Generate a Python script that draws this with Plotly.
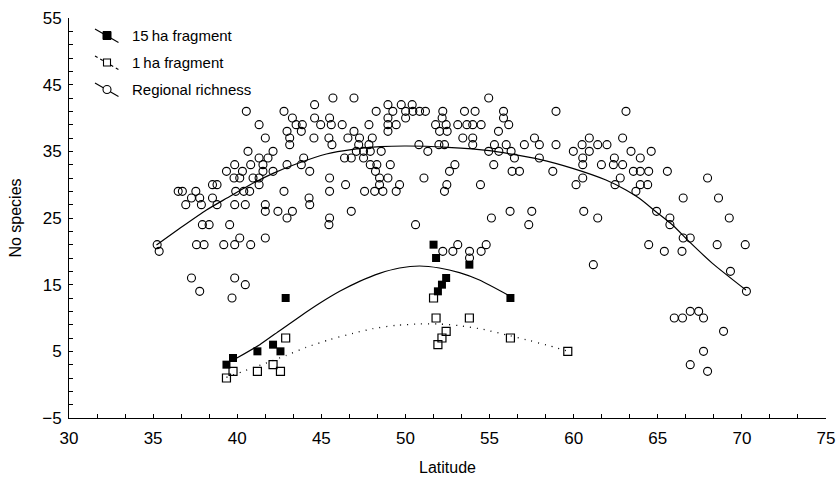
import plotly.graph_objects as go

# ---------------- data ----------------
reg_lat = [45.69, 44.60, 40.54, 42.78, 43.28, 44.60, 45.49, 41.30, 43.50, 43.87, 44.96, 45.59,
           42.96, 43.81, 41.67, 43.12, 44.56, 45.45, 43.12, 45.63, 40.64, 42.13, 41.30, 41.83,
           43.95, 39.85, 40.80, 41.53, 42.96, 43.81, 39.36, 40.31, 41.53, 42.13, 44.31, 39.81,
           40.15, 40.94, 41.30, 45.49, 38.53, 38.80, 41.30, 36.49, 36.74, 37.54, 39.91, 40.39,
           40.74, 42.78, 45.49, 37.28, 37.77, 38.53, 44.27, 36.94, 37.87, 38.80, 39.85, 40.48,
           41.67, 44.31, 41.67, 42.42, 43.28, 42.96, 45.49, 37.93, 38.33, 39.55, 45.45, 40.15,
           41.67, 35.24, 37.58, 38.03, 39.20, 39.85, 40.80, 35.36, 37.28, 39.85, 40.48, 37.77,
           39.69,
           46.94, 54.95, 48.96, 49.75, 50.40, 48.26, 49.25, 50.01, 50.44, 50.84, 51.19, 52.22,
           53.51, 54.14, 55.83, 58.95, 48.96, 50.01, 52.18, 55.83, 46.24, 47.83, 48.96, 49.45,
           51.79, 52.42, 53.11, 53.65, 54.00, 54.50, 56.14, 48.96, 52.03, 52.48, 55.53, 46.94,
           46.58, 47.27, 48.03, 47.22, 47.83, 47.08, 47.51, 47.91, 48.56, 46.38, 46.78, 47.51,
           47.91, 48.30, 49.10, 48.22, 48.46, 48.96, 46.44, 48.46, 49.65, 47.57, 48.17, 48.66,
           49.45, 46.78, 50.60, 51.10, 50.80, 51.33, 51.99, 52.32, 53.41, 54.00, 54.00, 54.95,
           55.29, 55.55, 55.99, 56.28, 56.48, 57.07, 57.67, 57.96, 57.96, 58.95, 59.98, 55.25,
           52.94, 52.62, 56.34, 56.78, 58.76, 52.46, 52.32, 54.46, 60.14, 55.11, 56.22, 57.51,
           57.33, 52.22, 52.82, 53.11, 53.81, 53.81, 54.50, 54.80,
           63.11, 60.93, 60.50, 60.93, 61.43, 61.98, 60.54, 60.54, 61.65, 62.42, 62.36, 62.91,
           62.91, 63.41, 63.96, 64.61, 63.55, 63.96, 64.46, 65.57, 62.77, 63.96, 64.40, 62.46,
           63.70, 60.54, 67.96, 66.51, 68.61, 64.93, 65.72, 65.72, 66.51, 66.93, 60.60, 61.43,
           69.25, 64.46, 65.39, 66.44, 68.53, 70.20, 61.17, 69.32, 70.27, 65.98, 66.47, 66.93,
           67.43, 67.72, 68.91, 67.72, 66.93, 67.96]
reg_sp = [43, 42, 41, 41, 40, 40, 40, 39, 39, 39, 39, 39,
          38, 38, 37, 37, 37, 37, 36, 36, 35, 35, 34, 34,
          34, 33, 33, 33, 33, 33, 32, 32, 32, 32, 32, 31,
          31, 31, 31, 31, 30, 30, 30, 29, 29, 29, 29, 29,
          29, 29, 29, 28, 28, 28, 28, 27, 27, 27, 27, 27,
          27, 27, 26, 26, 26, 25, 25, 24, 24, 24, 24, 22,
          22, 21, 21, 21, 21, 21, 21, 20, 16, 16, 15, 14,
          13,
          43, 43, 42, 42, 42, 41, 41, 41, 41, 41, 41, 41,
          41, 41, 41, 41, 40, 40, 40, 40, 39, 39, 39, 39,
          39, 39, 39, 39, 39, 39, 39, 38, 38, 38, 38, 38,
          37, 37, 37, 36, 36, 35, 35, 35, 35, 34, 34, 34,
          33, 33, 33, 32, 31, 31, 30, 30, 30, 29, 29, 29,
          29, 26, 24, 31, 36, 35, 36, 36, 37, 37, 36, 35,
          36, 35, 36, 35, 34, 36, 37, 36, 34, 36, 35, 33,
          33, 32, 32, 32, 32, 30, 29, 30, 30, 25, 26, 26,
          24, 20, 20, 21, 20, 19, 20, 21,
          41, 37, 36, 35, 36, 36, 34, 33, 33, 34, 33, 33,
          37, 35, 34, 35, 32, 32, 32, 32, 31, 30, 30, 30,
          29, 31, 31, 28, 28, 26, 25, 24, 22, 22, 26, 25,
          25, 21, 20, 20, 21, 21, 18, 17, 14, 10, 10, 11,
          11, 10, 8, 5, 3, 2]

ha15_lat = [39.36, 39.75, 41.20, 42.13, 42.57, 42.88, 51.67, 51.82, 51.93, 52.17, 52.42, 53.80, 56.24]
ha15_sp = [3, 4, 5, 6, 5, 13, 21, 19, 14, 15, 16, 18, 13]

ha1_lat = [39.36, 39.75, 41.20, 42.13, 42.57, 42.88, 51.67, 51.82, 51.93, 52.17, 52.42, 53.80, 56.24, 59.65]
ha1_sp = [1, 2, 2, 3, 2, 7, 13, 10, 6, 7, 8, 10, 7, 5]

# fitted curves
fit15_lat = [39.95, 41.34, 42.52, 43.71, 44.90, 46.09, 47.27, 48.46, 49.65, 50.84, 52.02, 53.21, 54.40, 56.20]
fit15_sp = [3.95, 6.0, 8.1, 10.2, 12.2, 14.0, 15.5, 16.7, 17.5, 17.8, 17.5, 16.8, 15.7, 13.3]

fit1_lat = [39.36, 40.25, 41.00, 41.63, 42.92, 44.11, 45.49, 46.88, 48.06, 49.45, 50.84, 52.00, 53.20, 54.60, 56.20, 57.40, 58.60, 59.65]
fit1_sp = [1.1, 1.9, 2.6, 3.15, 4.4, 5.6, 6.75, 7.7, 8.4, 8.9, 9.1, 9.1, 8.85, 8.3, 7.35, 6.6, 5.8, 5.0]

fitreg_lat = [35.20, 36.59, 38.17, 39.36, 40.74, 42.13, 43.50, 45.30, 46.88, 48.50, 50.05, 52.50, 55.00,
              57.96, 59.94, 61.92, 63.11, 63.90, 64.89, 65.88, 66.87, 68.25, 70.24]
fitreg_sp = [20.95, 23.45, 26.2, 27.95, 29.95, 31.7, 33.1, 34.6, 35.3, 35.7, 35.8, 35.6, 35.1,
             33.8, 32.45, 30.7, 29.2, 27.95, 25.95, 23.95, 21.45, 18.2, 14.2]

legend_labels = ["15\u2009ha fragment", "1\u2009ha fragment", "Regional richness"]

x_ticks = [30, 35, 40, 45, 50, 55, 60, 65, 70, 75]
y_ticks = [-5, 5, 15, 25, 35, 45, 55]

# ---------------- figure ----------------
FONT = "Liberation Sans, Arial, Helvetica, sans-serif"
W, H = 837, 481
ML, MR, MT, MB = 69, 11, 18, 63
PW, PH = W - ML - MR, H - MT - MB

fig = go.Figure()

fig.add_trace(go.Scatter(x=fitreg_lat, y=fitreg_sp, mode="lines", line=dict(color="black", width=1.2, shape="spline", smoothing=0.6),
                         showlegend=False, hoverinfo="skip"))
fig.add_trace(go.Scatter(x=fit15_lat, y=fit15_sp, mode="lines", line=dict(color="black", width=1.2, shape="spline", smoothing=0.6),
                         showlegend=False, hoverinfo="skip"))
fig.add_trace(go.Scatter(x=fit1_lat, y=fit1_sp, mode="lines", line=dict(color="black", width=1.3, dash="1px,6px", shape="spline", smoothing=0.6),
                         showlegend=False, hoverinfo="skip"))

fig.add_trace(go.Scatter(x=reg_lat, y=reg_sp, mode="markers", name=legend_labels[2],
                         marker=dict(symbol="circle-open", size=8, color="black", line=dict(width=1.1)),
                         showlegend=False))
fig.add_trace(go.Scatter(x=ha1_lat, y=ha1_sp, mode="markers", name=legend_labels[1],
                         marker=dict(symbol="square-open", size=8, color="black", line=dict(width=1.2)),
                         showlegend=False))
fig.add_trace(go.Scatter(x=ha15_lat, y=ha15_sp, mode="markers", name=legend_labels[0],
                         marker=dict(symbol="square", size=8, color="black", line=dict(width=0)),
                         showlegend=False))

# ---- custom legend (Statistica style: diagonal line through symbol) ----
def px_x(px):
    return (px - ML) / PW

def px_y(py):
    return (H - MB - py) / PH

rows_y = [35.5, 62.5, 89.5]
shapes = []
for i, ry in enumerate(rows_y):
    dash = "dot" if i == 1 else "solid"
    shapes.append(dict(type="line", xref="paper", yref="paper",
                       x0=px_x(95), y0=px_y(ry - 6.5), x1=px_x(118.5), y1=px_y(ry + 7),
                       line=dict(color="black", width=1.1, dash=dash)))
sym_x = px_x(107)
shapes.append(dict(type="rect", xref="paper", yref="paper", xsizemode="pixel", ysizemode="pixel",
                   xanchor=sym_x, yanchor=px_y(rows_y[0]), x0=-4, x1=4, y0=-4, y1=4,
                   fillcolor="black", line=dict(color="black", width=1)))
shapes.append(dict(type="rect", xref="paper", yref="paper", xsizemode="pixel", ysizemode="pixel",
                   xanchor=sym_x, yanchor=px_y(rows_y[1]), x0=-3.5, x1=3.5, y0=-3.5, y1=3.5,
                   fillcolor="white", line=dict(color="black", width=1.1)))
shapes.append(dict(type="circle", xref="paper", yref="paper", xsizemode="pixel", ysizemode="pixel",
                   xanchor=sym_x, yanchor=px_y(rows_y[2]), x0=-4, x1=4, y0=-4, y1=4,
                   fillcolor="white", line=dict(color="black", width=1.1)))

annotations = []
for lab, ry in zip(legend_labels, rows_y):
    annotations.append(dict(text=lab, xref="paper", yref="paper", x=px_x(130), y=px_y(ry),
                            xanchor="left", yanchor="middle", showarrow=False,
                            font=dict(family=FONT, size=15, color="black")))

axis_common = dict(showgrid=False, zeroline=False, showline=True, linecolor="black", linewidth=1,
                   ticks="inside", ticklen=4, tickwidth=1, tickcolor="black",
                   tickfont=dict(family=FONT, size=17, color="black"), mirror=False)

fig.update_layout(
    width=W, height=H,
    margin=dict(l=ML, r=MR, t=MT, b=MB, autoexpand=False),
    paper_bgcolor="white", plot_bgcolor="white",
    font=dict(family=FONT, size=16, color="black"),
    showlegend=False,
    shapes=shapes,
    annotations=annotations,
    xaxis=dict(range=[30, 75], tickmode="array", tickvals=x_ticks, ticktext=[str(v) for v in x_ticks],
               minor=dict(tick0=30, dtick=5 / 3, ticks="inside", ticklen=4, tickcolor="black", showgrid=False),
               title=dict(text="Latitude", font=dict(family=FONT, size=16), standoff=14),
               ticklabelstandoff=5, automargin=False, **axis_common),
    yaxis=dict(range=[-5, 55], tickmode="array", tickvals=y_ticks,
               ticktext=[("\u2212" + str(-v)) if v < 0 else str(v) for v in y_ticks],
               minor=dict(tick0=-5, dtick=2, ticks="inside", ticklen=4, tickcolor="black", showgrid=False),
               title=dict(text="No species", font=dict(family=FONT, size=16), standoff=16),
               ticklabelstandoff=3, automargin=False, **axis_common),
)

fig.write_html("out.html", config={"displayModeBar": False},
               post_script="document.body.style.margin='0';document.body.style.overflow='hidden';")
